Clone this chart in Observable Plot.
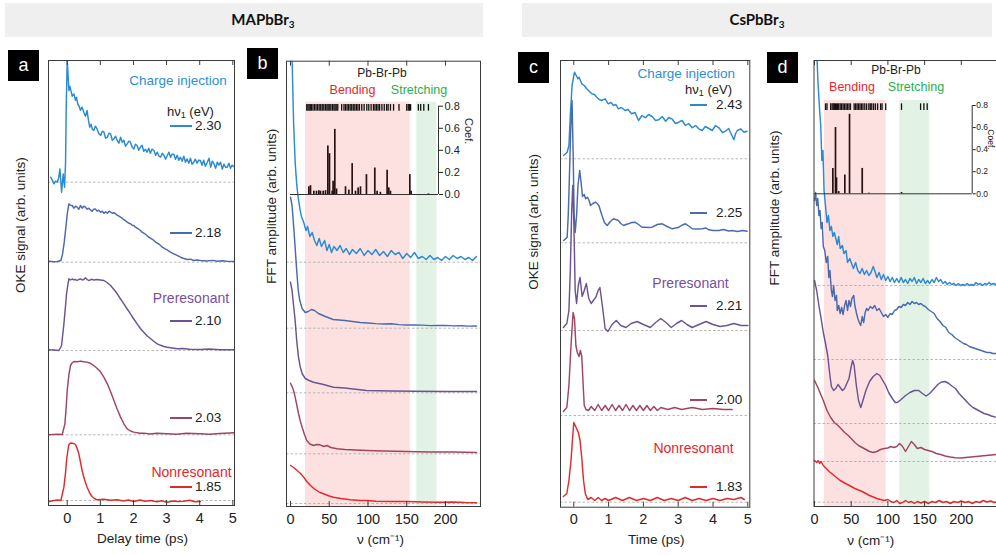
<!DOCTYPE html>
<html><head><meta charset="utf-8">
<script src="https://cdn.jsdelivr.net/npm/d3@7"></script>
<script src="https://cdn.jsdelivr.net/npm/@observablehq/plot@0.6"></script>
<style>
body{margin:0;background:#fff;}
#fig{position:relative;width:996px;height:555px;overflow:hidden;background:#fff;font-family:"Liberation Sans",Arial,sans-serif;}
.hdr{position:absolute;top:3px;height:34px;background:#efefef;}
.hdrt{position:absolute;top:20px;transform:translate(-50%,-50%);font-family:Lato,"Open Sans",sans-serif;font-weight:700;font-size:15px;color:#111;white-space:nowrap;}
.hdrt sub{font-size:10px;vertical-align:-3px;}
.box{position:absolute;width:31px;height:31px;background:#000;color:#fff;font-size:18px;display:flex;align-items:center;justify-content:center;}
.t{position:absolute;white-space:nowrap;line-height:1;}
.t sub{font-size:9px;vertical-align:-2px;}
.seg{position:absolute;height:1.6px;}
</style></head><body><div id="fig"></div>
<script>
// ---------- colours of the five excitation energies (top -> bottom) ----------
const COLORS = ["#2b8ad2", "#4a6aae", "#6b5492", "#a0455f", "#e12a2d"];

// ---------- panel a : MAPbBr3 OKE signal vs delay time (ps), [t, signal] ----------
const aLabels = ["2.30", "2.18", "2.10", "2.03", "1.85"];
const aOffsets = [323.3, 243.3, 155, 70.7, 5];
const a230 = [[-0.5,5],[-0.45,2],[-0.4,-1.7],[-0.35,1],[-0.3,0],[-0.26,4],[-0.22,13.3],[-0.17,-10],[-0.12,8.3],[-0.08,-5],[-0.05,20],[-0.03,75],[0,121.7],[0.03,105],[0.05,91.7],[0.08,96],[0.1,93.3],[0.15,86],[0.2,88.3],[0.25,82],[0.28,85],[0.32,78],[0.35,76.7],[0.4,72],[0.45,75],[0.5,70],[0.55,66],[0.6,71.7],[0.64,62],[0.68,55],[0.72,58],[0.76,53],[0.8,51.7],[0.85,56],[0.9,53.3],[0.95,49],[1.01,46.7],[1.06,51],[1.11,50],[1.16,44],[1.21,45],[1.26,49],[1.31,48.3],[1.36,42],[1.41,43.3],[1.46,46],[1.51,41.7],[1.56,39],[1.61,45],[1.66,40],[1.71,42],[1.76,36],[1.81,38.3],[1.86,41],[1.91,40],[1.96,35],[2.01,33.3],[2.06,38],[2.11,36.7],[2.16,32],[2.21,35],[2.26,37],[2.31,31],[2.36,33],[2.41,30],[2.46,34],[2.51,29],[2.56,33],[2.62,31.7],[2.67,27],[2.72,30],[2.77,26],[2.82,25],[2.87,29],[2.92,27],[2.97,23],[3.02,26.7],[3.07,30],[3.12,25],[3.17,28],[3.22,28],[3.27,23],[3.32,27],[3.37,22],[3.42,25],[3.47,21],[3.52,26],[3.57,20],[3.62,23.3],[3.67,19],[3.72,24],[3.77,18],[3.82,20],[3.87,23],[3.92,19],[3.97,22],[4.02,21.7],[4.07,17],[4.12,22],[4.17,16],[4.23,20],[4.28,24],[4.33,15],[4.38,21],[4.43,18.3],[4.48,14],[4.53,20],[4.58,17],[4.63,20],[4.68,13],[4.73,18],[4.78,15],[4.83,15],[4.88,19],[4.93,14],[4.98,17],[5.03,15.7]];
const a218 = [[-0.55,1],[-0.4,0.5],[-0.3,0.7],[-0.19,1.7],[-0.14,8.3],[-0.09,20],[-0.04,35],[0,48],[0.05,58.3],[0.1,57],[0.15,56.7],[0.2,54],[0.25,56],[0.3,55],[0.35,53],[0.4,56.7],[0.45,54],[0.5,56],[0.55,55],[0.6,53],[0.65,54],[0.7,52.3],[0.75,51],[0.8,53],[0.85,53.3],[0.9,51],[0.95,52],[1.01,50],[1.06,51],[1.11,49],[1.16,50.5],[1.21,49],[1.26,51],[1.31,50],[1.36,49],[1.41,49.5],[1.46,48.3],[1.51,47],[1.56,46],[1.61,45],[1.66,44],[1.71,42.5],[1.76,41.5],[1.81,40],[1.86,39],[1.91,38.5],[1.96,37],[2.01,36.7],[2.06,35],[2.11,34],[2.16,33],[2.21,31.7],[2.26,30],[2.31,29],[2.36,28],[2.41,26.7],[2.46,25],[2.51,24],[2.56,23],[2.62,21.7],[2.67,20],[2.72,19],[2.77,18],[2.82,16.7],[2.87,15],[2.92,14],[2.97,13],[3.02,12.3],[3.07,11],[3.12,10],[3.17,9],[3.22,8.3],[3.3,7],[3.42,5],[3.5,4],[3.62,2.7],[3.72,3],[3.82,1.7],[3.92,2.2],[4.02,1.7],[4.2,1.2],[4.4,1.8],[4.53,1],[4.7,1.5],[4.85,0.8],[5.03,0.7]];
const a210 = [[-0.55,0.7],[-0.4,0.5],[-0.25,0],[-0.17,5],[-0.1,26.7],[-0.05,45],[-0.02,56.7],[0.02,66],[0.05,71.7],[0.1,70.5],[0.15,71.5],[0.2,70.7],[0.25,71],[0.3,70],[0.35,71],[0.4,71.7],[0.45,70.5],[0.5,71],[0.55,72.7],[0.6,71],[0.65,70],[0.7,70.7],[0.75,71.2],[0.8,70.5],[0.9,71],[1,70.5],[1.11,70],[1.2,68],[1.31,65],[1.41,61],[1.51,56.7],[1.61,51.5],[1.71,46.7],[1.81,41.5],[1.91,36.7],[2.01,31.5],[2.11,26.7],[2.21,22],[2.31,18.3],[2.41,14.8],[2.52,11.7],[2.62,9],[2.72,6.7],[2.82,5.2],[2.92,4],[3.02,3.2],[3.12,2.7],[3.32,1.7],[3.5,2],[3.7,1.2],[4.02,1],[4.3,1.5],[4.6,0.8],[5.03,0.7]];
const a203 = [[-0.55,0],[-0.3,0.5],[-0.15,0.3],[-0.07,11],[-0.03,28],[0,44.3],[0.05,60],[0.1,69.3],[0.15,72],[0.2,73.3],[0.3,73],[0.4,73.7],[0.5,73],[0.6,72.7],[0.7,71.5],[0.8,69.3],[0.9,66.5],[1.01,62.7],[1.11,57.5],[1.21,51],[1.31,43],[1.41,34.3],[1.51,25.5],[1.61,17.7],[1.71,11],[1.81,6],[1.91,3.8],[2.01,2.7],[2.2,1.5],[2.32,1.7],[2.5,0.8],[2.7,1.5],[3.02,1],[3.3,0.5],[3.6,1.5],[4.02,1],[4.3,0.5],[4.6,1.3],[5.03,2]];
const a185 = [[-0.55,-1],[-0.4,0],[-0.3,0.5],[-0.19,0],[-0.1,13.3],[-0.05,28],[-0.02,40],[0.02,50],[0.05,56],[0.1,57.5],[0.15,57.3],[0.2,57],[0.25,56],[0.3,52],[0.35,46.7],[0.4,38.5],[0.45,30],[0.5,23.5],[0.55,18],[0.6,13.3],[0.68,7.5],[0.75,4],[0.82,2],[0.9,0.7],[1.1,1.2],[1.3,0.3],[1.51,0.7],[1.7,-0.5],[1.85,0.5],[2.01,-1],[2.2,0.5],[2.35,-0.8],[2.52,0],[2.7,-1.2],[2.85,-0.2],[3.02,-1.7],[3.2,-0.5],[3.35,-1],[3.52,-0.7],[3.7,0.2],[3.85,-1.2],[4.02,-1]];

// ---------- panel b : MAPbBr3 FFT amplitude vs wavenumber (cm-1), [nu, amplitude] ----------
const bOffsets = [244.3, 178.3, 113.7, 52.7, 3];
const b230 = [[0,330],[2,205],[4,140],[6,100],[8,78],[10,64],[12,54],[14,46],[17,40],[20,31.7],[22,35.7],[25,25.7],[28,29.7],[31,21.7],[34,16.7],[37,23.7],[40,15.7],[44,21.7],[47,11.7],[50,17.7],[53,9.7],[56,15.7],[60,11.7],[64,16.7],[68,9.7],[72,13.7],[76,7.7],[80,12.7],[85,8.7],[90,13.7],[95,6.7],[100,11.7],[105,7.7],[110,12.7],[115,6.7],[120,10.7],[125,5.7],[130,11.7],[135,7.7],[140,9.7],[145,3.7],[150,8.7],[155,4.7],[160,9.7],[165,3.7],[170,5.7],[175,2.7],[180,6.7],[185,2.7],[190,4.7],[195,1.7],[200,5.7],[205,2.7],[210,6.7],[215,3.7],[220,5.7],[225,2.7],[230,4.7],[235,1.7],[240,5.7]];
const b218 = [[0,131],[2,122.7],[4,102.7],[6,80.7],[8,57.7],[10,37.7],[12,27.7],[15,19.7],[19,15.7],[23,16.7],[27,18.7],[31,17.7],[36,14.7],[45,11.7],[55,8.7],[70,7.7],[90,5.7],[100,5.2],[110,4.6],[120,4.2],[130,4.5],[140,3.6],[150,3.2],[160,3.3],[170,3.1],[180,2.6],[190,2.7],[200,2.8],[210,2.3],[220,2.5],[230,2.1],[240,2.2]];
const b210 = [[0,110.6],[2,102.3],[4,87.3],[6,72.3],[8,52.3],[10.3,35.6],[12.5,26.3],[15,19.3],[19,14.3],[24,12.3],[29.7,10.6],[40,8.8],[55.5,5.6],[70,4.8],[98,2.3],[130,1.8],[160,1.5],[200,1.3],[240,1.3]];
const b203 = [[0,70.6],[2,67.3],[4,63.3],[6,56.6],[8,49.3],[10.3,40.3],[12.5,33.3],[15,26.6],[18,19.3],[21,13.3],[25,9.8],[29.7,8.3],[34,9.3],[38,9],[43,7.3],[47,8.3],[52,6.3],[60,5],[70,4.3],[77,4],[98,3.3],[120,2.8],[150,2.3],[180,1.8],[210,1.8],[240,1.3]];
const b185 = [[0,38],[4,36],[8.6,33],[13,30],[17,26.3],[21,22],[25.8,18],[30,15],[34,13],[38,11],[42.6,9.7],[50,7.5],[55.5,6.3],[65,5],[77,3.7],[90,3],[98,3],[110,2.3],[130,2],[150,2],[170,1.5],[190,1.2],[210,1.5],[225,1],[240,0.8]];
const bBands = [{x1: 19.4, x2: 154.5, kind: "Bending"}, {x1: 163, x2: 189, kind: "Stretching"}];
const bBars = [[23.7,0.07],[25.8,0.08],[30.1,0.03],[33.5,0.03],[36.6,0.035],[38.7,0.03],[42.2,0.03],[45.2,0.035],[48.2,0.44],[50.3,0.37],[53.8,0.03],[55,0.12],[57.2,0.59],[59.4,0.05],[71,0.07],[75.3,0.04],[79.6,0.28],[83.9,0.03],[87.3,0.06],[90.3,0.07],[98,0.18],[108.8,0.24],[111.8,0.03],[116,0.02],[124.7,0.22],[126.9,0.06],[129,0.03],[154,0.18],[155.7,0.03],[178,0.005]];
const bModes = [21,22.5,24,25.5,27,29,31,33,35,37,39,41,43,45,47,48.5,50,52,54,56,57.5,59,61,66,69,71,73,75,77,79,81,83,85,87,89,92,95,98.5,101,104,107,109,111,113,115,118,121,124,126,129,133,140,150,152,153.5,155,165,168,172,178];

// ---------- panel c : CsPbBr3 OKE signal vs time (ps) ----------
const cLabels = ["2.43", "2.25", "2.21", "2.00", "1.83"];
const cOffsets = [348.4, 264.4, 176.7, 91.7, 5];
const c243 = [[-0.29,3.3],[-0.19,6.6],[-0.14,13.3],[-0.1,43.3],[-0.05,73.3],[0.02,86.6],[0.07,83.3],[0.12,80],[0.15,81.6],[0.23,75],[0.3,73.3],[0.37,70],[0.45,67.3],[0.52,65],[0.59,64.3],[0.66,61.6],[0.73,59.3],[0.8,58.3],[0.9,60],[0.99,55],[1.07,56.3],[1.14,53.3],[1.21,54.3],[1.28,50],[1.37,51.3],[1.47,48.3],[1.56,49.3],[1.66,45],[1.76,46.3],[1.86,38.3],[1.96,43.3],[2.06,41],[2.15,44.3],[2.25,42.3],[2.35,38.3],[2.44,39],[2.54,42.3],[2.64,37.6],[2.73,41.3],[2.83,39.6],[2.92,35.3],[3.02,36.6],[3.11,38.3],[3.21,33.3],[3.3,35.3],[3.4,31],[3.5,33.3],[3.59,30],[3.69,28.3],[3.78,32.3],[3.88,30.3],[3.98,28.3],[4.07,33.3],[4.17,31],[4.27,26.3],[4.36,27.6],[4.45,30.3],[4.5,26.6],[4.6,19],[4.65,25.3],[4.7,28.3],[4.8,29.8],[4.89,26.6],[4.98,27.6]];
const c225 = [[-0.29,2.3],[-0.19,5.6],[-0.16,27.3],[-0.13,60.6],[-0.09,112.3],[-0.05,142.3],[-0.02,92.3],[0.01,27.3],[0.04,10.3],[0.08,27.3],[0.12,57.3],[0.17,72.3],[0.21,60.3],[0.25,46.3],[0.3,48.3],[0.34,44],[0.39,45.6],[0.44,42.3],[0.48,37.3],[0.55,39.3],[0.62,40.6],[0.67,39.3],[0.72,37.3],[0.81,27.3],[0.88,20.3],[0.96,17.3],[1.05,21.3],[1.14,24],[1.2,23.3],[1.28,22.3],[1.35,19.3],[1.43,17.3],[1.5,18.3],[1.57,19],[1.66,20.3],[1.76,20.6],[1.86,18.3],[1.96,15.6],[2.06,15.6],[2.15,15.3],[2.25,15.6],[2.4,18.3],[2.54,19],[2.68,16.3],[2.83,14],[2.93,14.8],[3.02,15.6],[3.12,17.8],[3.21,19],[3.3,16.8],[3.4,14],[3.55,13.8],[3.69,14],[3.8,14.8],[3.88,13],[4,12.3],[4.17,12.3],[4.3,13.3],[4.45,11.8],[4.55,12.3],[4.7,11.3],[4.85,12.3],[4.98,11.6]];
const c221 = [[-0.3,3],[-0.2,7],[-0.14,20],[-0.1,60],[-0.06,120],[-0.03,145],[0,110],[0.04,40],[0.08,27],[0.13,45],[0.18,53],[0.24,34],[0.3,40],[0.36,47],[0.43,32],[0.5,27],[0.56,30],[0.63,33],[0.7,40],[0.75,43],[0.82,25],[0.9,2],[0.98,-1],[1.1,6],[1.22,10],[1.35,5],[1.5,3],[1.65,7],[1.82,9],[2,6],[2.2,3],[2.35,8],[2.5,12],[2.65,8],[2.8,3],[2.95,7],[3.1,10],[3.25,6],[3.4,3],[3.6,6],[3.8,9],[4,6],[4.2,4],[4.4,5],[4.6,7],[4.8,5],[5,5]];
const c200 = [[-0.3,4],[-0.2,8],[-0.14,30],[-0.08,70],[-0.02,103],[0.02,97],[0.06,70],[0.1,63],[0.15,59],[0.19,65],[0.23,59],[0.27,30],[0.3,10],[0.35,6],[0.42,5],[0.5,9],[0.6,5],[0.7,11],[0.8,5],[0.9,10],[1,5],[1.1,11],[1.2,5],[1.3,10],[1.4,5],[1.5,11],[1.6,5],[1.7,10],[1.8,5],[1.9,10],[2,5],[2.1,10],[2.2,5],[2.3,9],[2.4,5],[2.5,8],[2.7,6],[2.9,8],[3.1,6],[3.4,8],[3.7,6],[4,7],[4.3,6],[4.55,6]];
const c183 = [[-0.3,5.7],[-0.2,8.7],[-0.14,21.7],[-0.08,41.7],[-0.04,61.7],[0,79.7],[0.04,76.7],[0.08,73.7],[0.13,69.7],[0.18,61.7],[0.23,43.7],[0.28,21.7],[0.33,8.7],[0.4,2.7],[0.5,4.7],[0.6,1.7],[0.7,4.7],[0.8,1.7],[0.9,3.7],[1,1.7],[1.2,4.7],[1.4,1.7],[1.6,4.7],[1.8,1.7],[2,3.7],[2.2,1.7],[2.4,4.7],[2.6,1.7],[2.8,3.7],[3,1.7],[3.2,4.7],[3.4,1.7],[3.6,3.7],[3.8,1.7],[4,3.7],[4.2,1.7],[4.4,3.7],[4.6,2.7],[4.8,4.7],[4.9,2.7]];

// ---------- panel d : CsPbBr3 FFT amplitude vs wavenumber (cm-1) ----------
const dOffsets = [221, 147, 83, 45, 4.3];
const d243 = [[0,300],[2,245],[3.5,225],[5,200],[7,175],[8.5,160],[10,125],[11.5,135],[13,95],[15,80],[17,63],[19,70],[21,55],[23,59],[25,49],[27,53],[29,47],[31,41],[33,49],[35,37],[38,40],[40,32],[43,35],[45,23],[48,27],[51,21],[53,17],[56,23],[59,15],[62,12],[65,17],[68,11],[71,15],[74,10],[77,13],[80,19],[82,15],[85,8],[88,13],[91,6],[94,11],[97,5],[100,9],[103,4],[106,8],[109,3],[112,7],[115,3],[118,8],[121,3],[124,6],[127,2],[130,7],[133,4],[136,8],[139,2],[142,6],[145,3],[148,7],[151,2],[154,5],[157,2],[160,6],[163,3],[166,8],[169,4],[172,6],[175,2],[178,4],[181,1],[184,3],[187,1],[190,2],[193,0],[196,2],[199,0],[202,1],[205,0],[208,2],[211,0],[214,1],[217,0],[220,3],[223,1],[226,2],[229,0],[232,2],[235,1],[238,3],[241,1],[244,2],[247,1]];
const d225 = [[0,159],[1.5,167],[3,154],[4.5,161],[6,144],[7.5,149],[9,131],[10.5,137],[12,113],[14,109],[16,97],[18,103],[19.5,82],[21,89],[23,69],[24.5,63],[26,74],[28,59],[30,64],[31,49],[33,54],[35,46],[37,52],[39,45],[41,54],[43,59],[45,49],[47,59],[49,53],[51,61],[53.5,64],[55,54],[57,47],[59,41],[61,37],[63,34],[65,43],[67,37],[69,47],[71,51],[73,49],[76,53],[79,51],[82,54],[85,49],[88,51],[91,47],[94,43],[97,45],[100,42],[103,46],[106,45],[109,49],[112,50],[115,53],[118,52],[121,55],[124,54],[127,57],[130,55],[133,58],[136,56],[139,57],[142,55],[145,56],[148,54],[151,53],[155,50],[159,48],[163,46],[167,41],[171,38],[175,34],[179,32],[183,27],[187,25],[191,22],[195,20],[199,18],[203,16],[207,15],[211,13],[215,12],[219,11],[223,10],[227,9],[231,8],[235,7],[239,7],[243,6],[247,6]];
const d221 = [[0,143],[3,133],[6,118],[9,105],[12,91],[15,80],[18,68],[21,48],[23,37],[26,33],[29,35],[32,39],[35,36],[38,33],[41,35],[44,40],[47,45],[50,57],[52,63],[54,58],[57,38],[60,23],[63,16],[66,23],[70,33],[75,42],[80,47],[85,50],[89,48],[93,43],[97,38],[101,31],[106,25],[110,21],[113,21],[118,24],[124,28],[130,31],[136,33],[142,33],[147,30],[152,27.5],[157,30],[163,35],[168,39],[173,41.5],[178,42],[183,40],[188,37],[192,35],[197,30],[202,26],[206,23],[211,19],[216,16],[221,14],[226,12],[231,10],[236,9],[241,7.5],[246,6.5]];
const d200 = [[0,81],[4,75],[8,68],[12,61],[17,51],[22,44],[27,39],[32,36],[36,33],[41,29],[46,26],[50,23],[55,19],[60,16],[65,14],[70,12],[75,10],[80,9],[85,10],[90,12],[95,13],[100,13.5],[104,15],[108,14],[112,15],[116,18],[120,15],[124,10],[128,15],[132,20],[136,17],[140,13],[145,14],[150,12],[155,11],[160,10],[166,8],[172,7],[178,5.5],[185,4.5],[192,3.7],[199,3.5],[206,4],[213,4.5],[220,5],[227,5.5],[234,6],[241,6.5],[247,7]];
const d183 = [[0,41.7],[3,39.7],[5,41.7],[7,38.7],[9,40.7],[12,36.7],[16,33.7],[20,30.7],[25,27.7],[30,24.7],[35,21.7],[40,19.7],[45,17.7],[50,15.7],[55,13.7],[60,12.2],[65,10.7],[70,8.7],[75,6.7],[80,5.2],[85,3.7],[90,2.7],[95,1.7],[100,2.7],[104,0.7],[108,-0.3],[112,1.7],[116,-1.3],[120,-0.3],[124,1.7],[128,-0.3],[132,0.7],[136,-1.3],[140,0.7],[145,-0.8],[150,0.7],[155,-1.3],[160,0.7],[165,-0.3],[170,1.7],[175,-0.3],[180,0.7],[185,-1.3],[190,0.7],[195,-0.3],[200,1.2],[205,-0.3],[210,0.7],[215,-1.3],[220,0.7],[225,-0.3],[230,1.7],[235,0.2],[240,1.2],[245,-0.3],[250,0.7]];
const dBands = [{x1: 13.6, x2: 97.6, kind: "Bending"}, {x1: 116, x2: 157, kind: "Stretching"}];
const dBars = [[25,0.23],[28.6,0.6],[30,0.145],[33,0.02],[41.3,0.17],[47.7,0.72],[65,0.23],[74,0.006],[118.5,0.012]];
const dModes = [15,17,22,24,25.5,27,28.5,30,31.5,33,35,37,39,41,43,45,47,49,54,56,58,60,62,64,66,68.5,71,74,76,78,80.5,83,86,90,92,97,118.5,144.5,149,153.5];

const coefTicks = [0, 0.2, 0.4, 0.6, 0.8];
const timeTicks = [0, 1, 2, 3, 4, 5];
const nuTicks = [0, 50, 100, 150, 200];

// ---------- helpers ----------
const fig = document.getElementById("fig");
const FONT = '"Liberation Sans", Arial, sans-serif';
function place(node, left, top) {
  node.style.position = "absolute";
  node.style.left = left + "px";
  node.style.top = top + "px";
  fig.appendChild(node);
}
function div(cls, css, html) {
  const d = document.createElement("div");
  d.className = cls;
  Object.assign(d.style, css);
  if (html != null) d.innerHTML = html;
  fig.appendChild(d);
  return d;
}
function txt(html, x, y, {color = "#222", size = 13.5, anchor = "left"} = {}) {
  const tr = anchor === "left" ? "translate(0,-50%)" : anchor === "right" ? "translate(-100%,-50%)" : "translate(-50%,-50%)";
  div("t", {left: x + "px", top: y + "px", color, fontSize: size + "px", transform: tr}, html);
}
function legend(labels, rows, x0, x1, xl) {
  labels.forEach((lab, i) => {
    div("seg", {left: x0 + "px", top: (rows[i] - 0.8) + "px", width: (x1 - x0) + "px", background: COLORS[i]});
    txt(lab, xl, rows[i], {color: "#222", size: 13.5});
  });
}

function mainPanel(cfg) {
  const H = cfg.height - cfg.mT - cfg.mB;
  const marks = [];
  if (cfg.bands) {
    marks.push(Plot.rect(cfg.bands.filter(d => d.kind === "Bending"), {x1: "x1", x2: "x2", y1: 0, y2: cfg.bandTop, fill: "#fde1e1"}));
    marks.push(Plot.rect(cfg.bands.filter(d => d.kind === "Stretching"), {x1: "x1", x2: "x2", y1: 0, y2: cfg.bandTop, fill: "#e2f3e6"}));
  }
  marks.push(Plot.ruleY(cfg.offsets, {stroke: "#b0b0b0", strokeDasharray: "2.5,2", strokeWidth: 0.9}));
  cfg.series.forEach((s, i) => marks.push(Plot.line(s, {x: d => d[0], y: d => cfg.offsets[i] + d[1], stroke: COLORS[i], strokeWidth: 1.45, clip: true})));
  marks.push(Plot.frame({stroke: "#3c3c3c", strokeWidth: 1}));
  marks.push(Plot.ruleX(cfg.xTicks, {x: d => d, y1: 0, y2: 5, stroke: "#3c3c3c"}));
  marks.push(Plot.ruleX(cfg.xTicks, {x: d => d, y1: H - 5, y2: H, stroke: "#3c3c3c"}));
  marks.push(Plot.axisX({ticks: cfg.xTicks, tickFormat: d => String(d), anchor: "bottom", tickSize: 0, tickPadding: 7, label: null, fontSize: 14.5}));
  marks.push(Plot.text([cfg.xLabel], {text: d => d, frameAnchor: "bottom", dx: cfg.xlDx, dy: cfg.xlDy, fontSize: 13.5, lineAnchor: "middle", fill: "#222"}));
  marks.push(Plot.text([cfg.yLabel], {text: d => d, frameAnchor: "left", rotate: -90, dx: cfg.ylDx, dy: cfg.ylDy, fontSize: 13.5, lineAnchor: "middle", fill: "#222"}));
  const svg = Plot.plot({
    width: cfg.width, height: cfg.height,
    marginLeft: cfg.mL, marginRight: cfg.mR, marginTop: cfg.mT, marginBottom: cfg.mB,
    x: {domain: cfg.xDomain},
    y: {domain: [0, H], axis: null},
    style: {fontFamily: FONT, fontSize: "14px", background: "transparent", overflow: "visible", maxWidth: "none", color: "#222"},
    marks
  });
  place(svg, cfg.left, cfg.top);
}

function insetPanel(cfg) {
  const svg = Plot.plot({
    width: cfg.width, height: cfg.height,
    marginLeft: cfg.mL, marginRight: cfg.mR, marginTop: cfg.mT, marginBottom: cfg.mB,
    x: {domain: [0, cfg.xMax], axis: null},
    y: {domain: [0, 0.8]},
    style: {fontFamily: FONT, fontSize: "11px", background: "transparent", overflow: "visible", maxWidth: "none", color: "#222"},
    marks: [
      Plot.ruleX(cfg.modes, {x: d => d, y1: 0.755, y2: 0.815, stroke: "#111", strokeWidth: 1.3}),
      Plot.ruleX(cfg.bars, {x: d => d[0], y1: 0, y2: d => d[1], stroke: "#2a1212", strokeWidth: 1.7}),
      Plot.ruleY([0], {stroke: "#333", strokeWidth: 1}),
      Plot.ruleX([cfg.xMax], {stroke: "#333", strokeWidth: 1}),
      Plot.axisY({anchor: "right", ticks: coefTicks, tickFormat: d => d.toFixed(1), tickSize: cfg.tickSize, tickPadding: cfg.tickPad, label: null, fontSize: cfg.tickFont}),
      Plot.text(["Coef."], {text: d => d, frameAnchor: "right", rotate: 90, dx: cfg.coefDx, dy: cfg.coefDy, fontSize: cfg.tickFont, fill: "#222"})
    ]
  });
  place(svg, cfg.left, cfg.top);
}

// ---------- headers ----------
div("hdr", {left: "5px", width: "478px"});
div("hdr", {left: "522px", width: "470px"});
div("hdrt", {left: "263px"}, "MAPbBr<sub>3</sub>");
div("hdrt", {left: "757px"}, "CsPbBr<sub>3</sub>");

// ---------- panels ----------
mainPanel({left: 0, top: 40, width: 245, height: 515, mL: 48, mR: 11, mT: 20, mB: 50,
  xDomain: [-0.565, 5.05], xTicks: timeTicks, offsets: aOffsets, series: [a230, a218, a210, a203, a185],
  xLabel: "Delay time (ps)", xlDx: 1, xlDy: 33, yLabel: "OKE signal (arb. units)", ylDx: -28, ylDy: 10});

mainPanel({left: 245, top: 40, width: 250, height: 515, mL: 41, mR: 15, mT: 20.7, mB: 49,
  xDomain: [-5.16, 245.2], xTicks: nuTicks, offsets: bOffsets, series: [b230, b218, b210, b203, b185],
  bands: bBands, bandTop: 404.3,
  xLabel: "ν (cm⁻¹)", xlDx: -3, xlDy: 33, yLabel: "FFT amplitude (arb. units)", ylDx: -15, ylDy: 0});
insetPanel({left: 245, top: 40, width: 250, height: 170, mL: 45, mR: 57, mT: 65.7, mB: 16,
  xMax: 191, bars: bBars, modes: bModes, coefDx: 30, coefDy: -6, tickFont: 11, tickPad: 2, tickSize: 4});

mainPanel({left: 500, top: 40, width: 255, height: 515, mL: 60, mR: 5.7, mT: 20, mB: 48.3,
  xDomain: [-0.382, 5.057], xTicks: timeTicks, offsets: cOffsets, series: [c243, c225, c221, c200, c183],
  xLabel: "Time (ps)", xlDx: 1, xlDy: 32, yLabel: "OKE signal (arb. units)", ylDx: -27, ylDy: 6});

mainPanel({left: 755, top: 40, width: 250, height: 515, mL: 58.5, mR: 2, mT: 20, mB: 49,
  xDomain: [-0.68, 257.5], xTicks: nuTicks, offsets: dOffsets, series: [d243, d225, d221, d200, d183],
  bands: dBands, bandTop: 406,
  xLabel: "ν (cm⁻¹)", xlDx: -38, xlDy: 34, yLabel: "FFT amplitude (arb. units)", ylDx: -39, ylDy: 2});
insetPanel({left: 755, top: 40, width: 241, height: 170, mL: 59, mR: 24.3, mT: 65, mB: 16.7,
  xMax: 214.8, bars: dBars, modes: dModes, coefDx: 18.5, coefDy: 0, tickFont: 8.5, tickPad: 1, tickSize: 3});

// ---------- panel letters ----------
[["a", 8, 50], ["b", 247, 48], ["c", 518, 52], ["d", 767, 52]].forEach(([l, x, y]) =>
  div("box", {left: x + "px", top: y + "px"}, l));

// ---------- annotations: panel a ----------
txt("Charge injection", 178, 81, {color: "#2b8fd6", size: 13.5, anchor: "center"});
txt("hν<sub>1</sub> (eV)", 167, 112, {size: 13});
legend(aLabels, [126, 233, 321, 418, 487], 170, 192, 195);
txt("Preresonant", 191, 298, {color: "#7a4ea3", size: 14, anchor: "center"});
txt("Nonresonant", 191.5, 472, {color: "#e8262a", size: 14, anchor: "center"});

// ---------- annotations: panel c ----------
txt("Charge injection", 735, 74, {color: "#2b8fd6", size: 13.5, anchor: "right"});
txt("hν<sub>1</sub> (eV)", 732, 89.5, {size: 13, anchor: "right"});
legend(cLabels, [105, 213, 306, 400, 487], 690, 707, 716);
txt("Preresonant", 690.5, 283, {color: "#7a4ea3", size: 14, anchor: "center"});
txt("Nonresonant", 693.5, 448, {color: "#e8262a", size: 14, anchor: "center"});

// ---------- inset titles ----------
txt("Pb-Br-Pb", 382, 73, {size: 12, anchor: "center"});
txt("Bending", 352.5, 90, {color: "#e8262a", size: 12.5, anchor: "center"});
txt("Stretching", 419, 90, {color: "#23b14d", size: 12.5, anchor: "center"});
txt("Pb-Br-Pb", 896, 70, {size: 12, anchor: "center"});
txt("Bending", 852, 87, {color: "#e8262a", size: 12.5, anchor: "center"});
txt("Stretching", 916, 87, {color: "#23b14d", size: 12.5, anchor: "center"});
</script></body></html>
